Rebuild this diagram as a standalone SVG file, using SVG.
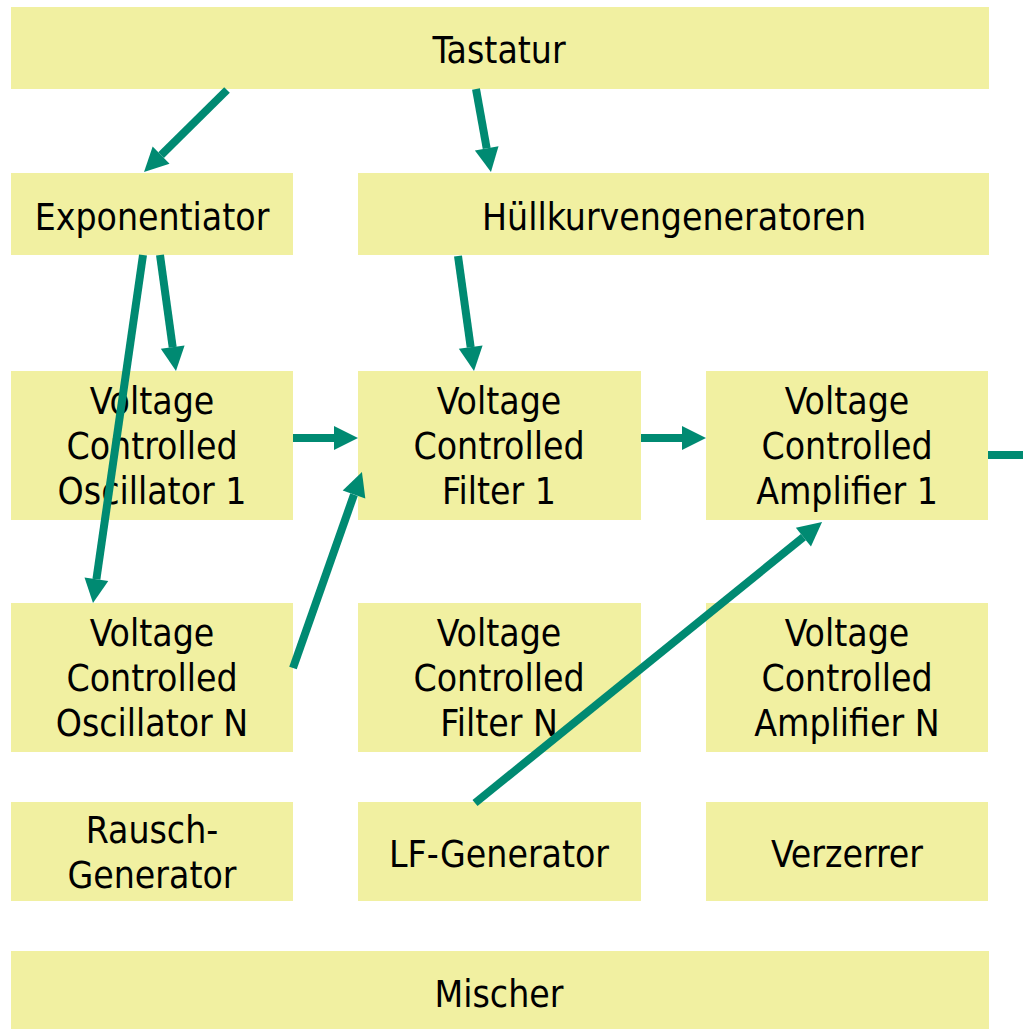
<svg xmlns="http://www.w3.org/2000/svg" width="1023" height="1029" viewBox="0 0 1023 1029">
<style>
.box{fill:#F1F0A1;}
.t{font-family:"DejaVu Sans Condensed","DejaVu Sans",sans-serif;font-stretch:condensed;font-size:37px;fill:#000;text-anchor:middle;}
.c{stroke:#008A72;stroke-width:8;fill:none;}
</style>
<defs>
<marker id="ah" markerUnits="userSpaceOnUse" markerWidth="26" markerHeight="26" viewBox="0 -13 26 26" refX="0" refY="0" orient="auto" overflow="visible">
<path d="M0,-12 L24,0 L0,12 z" fill="#008A72"/>
</marker>
</defs>
<rect width="1023" height="1029" fill="#fff"/>
<g id="tastatur"><rect class="box" x="11" y="7" width="978" height="82"/><text class="t" x="499" y="63">Tastatur</text></g>
<g id="exponentiator"><rect class="box" x="11" y="173" width="282" height="82"/><text class="t" x="152" y="230">Exponentiator</text></g>
<g id="huellkurven"><rect class="box" x="358" y="173" width="631" height="82"/><text class="t" x="674" y="230">Hüllkurvengeneratoren</text></g>
<g id="vco1"><rect class="box" x="11" y="371" width="282" height="149"/><text class="t" x="152" y="414">Voltage</text><text class="t" x="152" y="459">Controlled</text><text class="t" x="152" y="504">Oscillator 1</text></g>
<g id="vcf1"><rect class="box" x="358" y="371" width="283" height="149"/><text class="t" x="499" y="414">Voltage</text><text class="t" x="499" y="459">Controlled</text><text class="t" x="499" y="504">Filter 1</text></g>
<g id="vca1"><rect class="box" x="706" y="371" width="282" height="149"/><text class="t" x="847" y="414">Voltage</text><text class="t" x="847" y="459">Controlled</text><text class="t" x="847" y="504">Amplifier 1</text></g>
<g id="vcon"><rect class="box" x="11" y="603" width="282" height="149"/><text class="t" x="152" y="646">Voltage</text><text class="t" x="152" y="691">Controlled</text><text class="t" x="152" y="736">Oscillator N</text></g>
<g id="vcfn"><rect class="box" x="358" y="603" width="283" height="149"/><text class="t" x="499" y="646">Voltage</text><text class="t" x="499" y="691">Controlled</text><text class="t" x="499" y="736">Filter N</text></g>
<g id="vcan"><rect class="box" x="706" y="603" width="282" height="149"/><text class="t" x="847" y="646">Voltage</text><text class="t" x="847" y="691">Controlled</text><text class="t" x="847" y="736">Amplifier N</text></g>
<g id="rausch"><rect class="box" x="11" y="802" width="282" height="99"/><text class="t" x="152" y="843">Rausch-</text><text class="t" x="152" y="888">Generator</text></g>
<g id="lfgen"><rect class="box" x="358" y="802" width="283" height="99"/><text class="t" x="499" y="867">LF-Generator</text></g>
<g id="verzerrer"><rect class="box" x="706" y="802" width="282" height="99"/><text class="t" x="847" y="867">Verzerrer</text></g>
<g id="mischer"><rect class="box" x="11" y="951" width="978" height="78"/><text class="t" x="499" y="1007">Mischer</text></g>
<g id="connectors">
<line class="c" x1="227" y1="90" x2="161.1" y2="155.1" marker-end="url(#ah)"/>
<line class="c" x1="476" y1="89" x2="486.7" y2="148.4" marker-end="url(#ah)"/>
<line class="c" x1="458" y1="256" x2="470.7" y2="347.2" marker-end="url(#ah)"/>
<line class="c" x1="160" y1="255" x2="172.7" y2="347.2" marker-end="url(#ah)"/>
<line class="c" x1="143" y1="255" x2="96.4" y2="579.2" marker-end="url(#ah)"/>
<line class="c" x1="293" y1="438" x2="334" y2="438" marker-end="url(#ah)"/>
<line class="c" x1="293" y1="668" x2="354" y2="494.6" marker-end="url(#ah)"/>
<line class="c" x1="641" y1="438" x2="682" y2="438" marker-end="url(#ah)"/>
<line class="c" x1="475" y1="803" x2="803.4" y2="537.2" marker-end="url(#ah)"/>
<line class="c" x1="988" y1="455" x2="1023" y2="455"/>
</g>
</svg>
